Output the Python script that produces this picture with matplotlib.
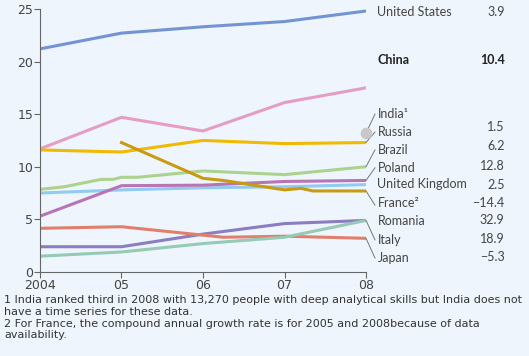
import matplotlib
matplotlib.use("Agg")
import matplotlib.pyplot as plt

# series values (people with deep analytical skills, thousands)
years = [2004, 2005, 2006, 2007, 2008]
us = [21.2, 22.7, 23.3, 23.8, 24.8]
china = [11.7, 14.7, 13.4, 16.1, 17.5]
russia = [11.6, 11.4, 12.5, 12.2, 12.3]
france_x = [2005, 2006, 2006.25, 2007, 2007.2, 2007.35, 2008]
france = [12.3, 8.9, 8.7, 7.8, 7.95, 7.7, 7.7]
brazil_x = [2004, 2004.3, 2004.75, 2004.9, 2005, 2005.2, 2006, 2007, 2008]
brazil = [7.85, 8.1, 8.8, 8.8, 9.0, 9.0, 9.6, 9.25, 10.0]
poland = [5.3, 8.2, 8.25, 8.6, 8.7]
uk = [7.5, 7.8, 8.0, 8.1, 8.3]
romania = [2.4, 2.4, 3.6, 4.6, 4.9]
italy_x = [2004, 2005, 2006, 2006.25, 2007, 2008]
italy = [4.15, 4.3, 3.5, 3.3, 3.4, 3.2]
japan = [1.5, 1.9, 2.7, 3.3, 4.9]
india_2008 = 13.2

# right-hand labels: name, growth rate, label y, value y
names = ["United States", "China", "India\u00b9", "Russia", "Brazil", "Poland",
         "United Kingdom", "France\u00b2", "Romania", "Italy", "Japan"]
growth = ["3.9", "10.4", "", "1.5", "6.2", "12.8", "2.5", "\u221214.4", "32.9", "18.9", "\u22125.3"]
name_y = [24.7, 20.15, 15.0, 13.3, 11.6, 9.9, 8.35, 6.55, 4.85, 3.05, 1.33]
value_y = [24.7, 20.15, None, 13.8, 12.0, 10.1, 8.3, 6.55, 4.95, 3.1, 1.4]
# leader lines (end of series -> label)
leader_from = [13.2, 12.3, 10.0, 8.7, 7.7, 4.9, 3.2]
leader_to = [15.0, 13.3, 11.6, 9.9, 6.35, 3.05, 1.33]

bg = "#eef5fc"
fig = plt.figure(figsize=(5.29, 3.56), dpi=100, facecolor=bg)
ax = fig.add_axes([0.0756, 0.236, 0.6163, 0.739], facecolor=bg)

lw = 2.2
ax.plot(years, us, color="#7394d2", lw=lw)
ax.plot(years, china, color="#e69dc5", lw=lw)
ax.plot(years, russia, color="#f0ba00", lw=lw)
ax.plot(brazil_x, brazil, color="#acd38e", lw=lw)
ax.plot(years, uk, color="#92caf2", lw=lw)
ax.plot(years, poland, color="#b874b4", lw=lw)
ax.plot(france_x, france, color="#c89b12", lw=lw)
ax.plot(years, romania, color="#8a7dc2", lw=lw)
ax.plot(italy_x, italy, color="#e07f6c", lw=lw)
ax.plot(years, japan, color="#95cbb5", lw=lw)
ax.scatter([2008], [india_2008], s=55, color="#c8c8c8", zorder=5, clip_on=False)

for a, b in zip(leader_from, leader_to):
    ax.plot([2008, 2008.11], [a, b], color="#777777", lw=0.7, clip_on=False)

for n, v, ny, vy in zip(names, growth, name_y, value_y):
    bold = n == "China"
    c = "#222222" if bold else "#444444"
    w = "bold" if bold else "normal"
    ax.text(2008.14, ny, n, fontsize=9, family="Lato", va="center", ha="left",
            color=c, fontweight=w, clip_on=False)
    if v:
        ax.text(2009.7, vy, v, fontsize=9, family="Lato", va="center", ha="right",
                color=c, fontweight=w, clip_on=False)

ax.set_xlim(2004, 2008)
ax.set_ylim(0, 25)
ax.set_xticks(years)
ax.set_xticklabels(["2004", "05", "06", "07", "08"])
ax.set_yticks([0, 5, 10, 15, 20, 25])
for s in ["top", "right"]:
    ax.spines[s].set_visible(False)
for s in ["left", "bottom"]:
    ax.spines[s].set_color("#666666")
    ax.spines[s].set_linewidth(0.8)
ax.tick_params(colors="#666666", labelcolor="#444444", labelsize=9, length=4, width=0.8, pad=1)

notes = ("1 India ranked third in 2008 with 13,270 people with deep analytical skills but India does not\n"
         "have a time series for these data.\n"
         "2 For France, the compound annual growth rate is for 2005 and 2008because of data\n"
         "availability.")
fig.text(0.008, 0.17, notes, fontsize=8, va="top", ha="left", color="#333333", linespacing=1.2)

fig.savefig("out.png", dpi=100, facecolor=bg)
